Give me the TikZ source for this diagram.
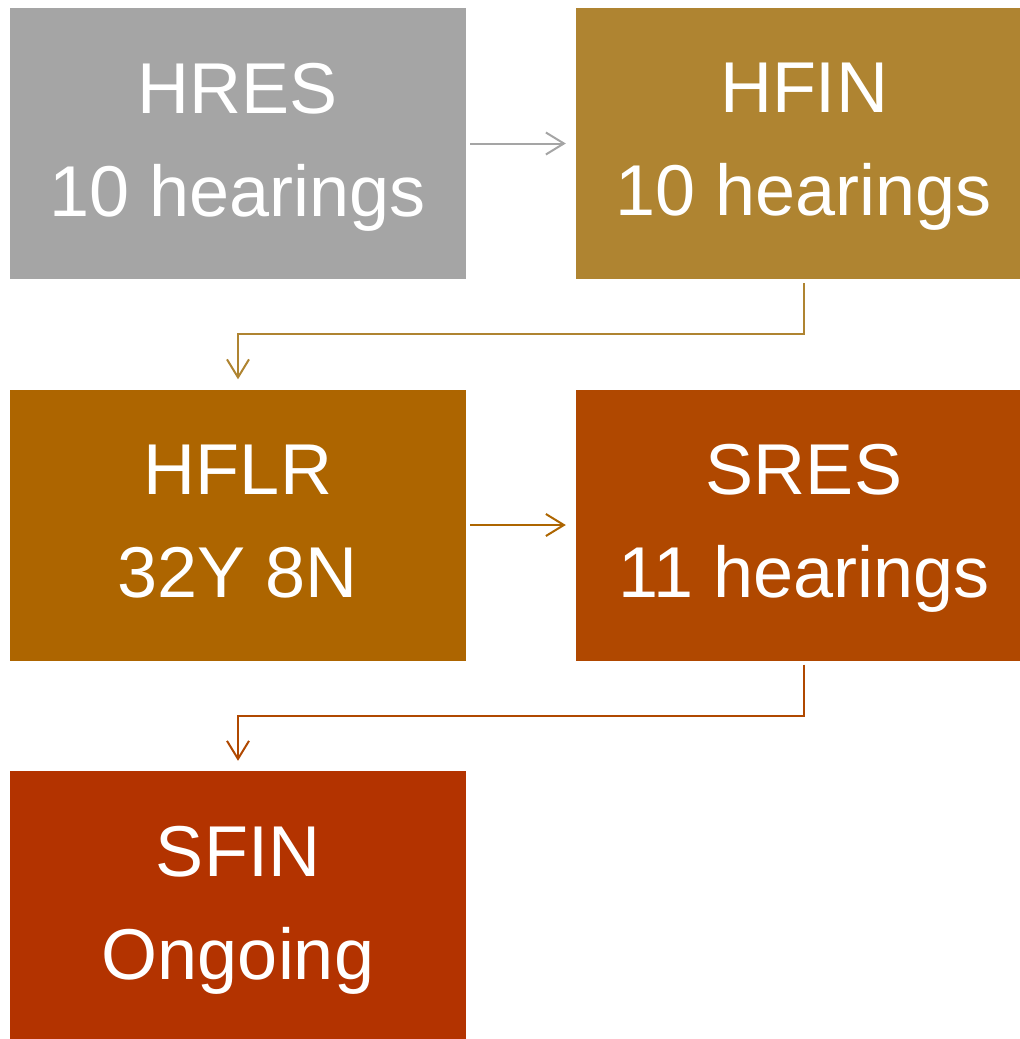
\documentclass[tikz,border=0pt]{standalone}
\usepackage{fontspec}
\setmainfont{Liberation Sans}
\usetikzlibrary{arrows.meta}

\definecolor{hrescol}{HTML}{A5A5A5}
\definecolor{hfincol}{HTML}{AF8431}
\definecolor{hflrcol}{HTML}{AD6500}
\definecolor{srescol}{HTML}{B04800}
\definecolor{sfincol}{HTML}{B33300}

\begin{document}
\begin{tikzpicture}[x=1pt,y=-1pt,
  box/.style={fill=#1,text=white,minimum width=456pt,minimum height=271pt,
    inner sep=0pt,align=center,text depth=8pt,
    font=\fontsize{72}{103}\selectfont},
  link/.style={draw=#1,line width=2pt,
    -{Straight Barb[length=18pt,width=22pt,line width=2pt]},
    shorten <=4pt,shorten >=10pt}]
\useasboundingbox (0,0) rectangle (1020,1039);
\clip (0,0) rectangle (1020,1039);

% stages
\node[box=hrescol] (hres) at (238,143.5) {HRES\\10 hearings};
\node[box=hfincol] (hfin) at (804,143.5) {HFIN\\10 hearings};
\node[box=hflrcol] (hflr) at (238,525) {HFLR\\32Y 8N};
\node[box=srescol] (sres) at (804,525) {SRES\\11 hearings};
\node[box=sfincol] (sfin) at (238,906.5) {SFIN\\Ongoing};

% links
\draw[link=hrescol] (hres) -- (hfin);
\draw[link=hfincol] (hfin.south) -- ++(0,55) -| (hflr.north);
\draw[link=hflrcol] (hflr) -- (sres);
\draw[link=srescol] (sres.south) -- ++(0,55) -| (sfin.north);
\end{tikzpicture}
\end{document}
